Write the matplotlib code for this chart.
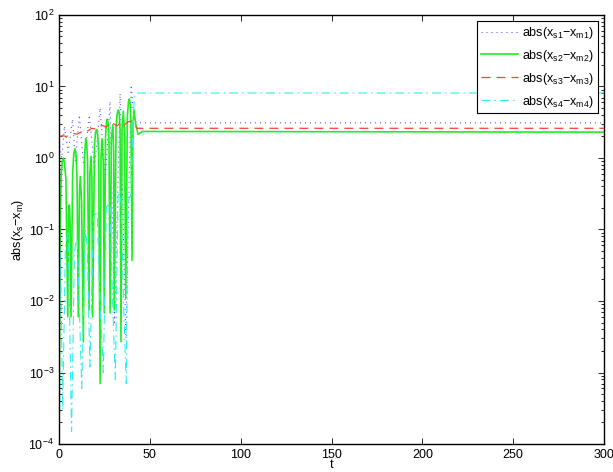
import matplotlib
matplotlib.use("Agg")
import matplotlib.pyplot as plt
import numpy as np

plt.rcParams['font.family'] = ['Liberation Sans', 'DejaVu Sans']
plt.rcParams['mathtext.fontset'] = 'custom'
plt.rcParams['mathtext.rm'] = 'Liberation Sans'
plt.rcParams['mathtext.it'] = 'Liberation Sans:italic'
plt.rcParams['mathtext.default'] = 'regular'
plt.rcParams['font.size'] = 9

# series 1 (blue dotted)
t1 = [0, 1.5, 3, 5, 7.5, 9, 11.2, 13.5, 16.7, 19.5, 22.6, 25.5, 28.1, 30.6, 33.6, 36.8, 39.7, 41, 42.5, 300]
v1 = [1.7, 1.0, 2.8, 1.2, 3.5, 0.9, 4.0, 0.8, 4.0, 0.7, 5.0, 0.5, 6.2, 0.005, 8.0, 0.003, 10.5, 4.0, 3.1, 3.1]

# series 2 (green solid)
t2 = [0, 0.5, 1.2, 1.8, 2.4, 3.0, 3.8, 4.8, 5.2, 5.7, 6.1, 6.6, 7.5, 8.1, 8.8, 9.4, 9.9, 10.6, 11.2, 11.7, 12.4, 13.4, 14.0, 14.7,
      15.3, 15.7, 16.5, 17.0, 17.6, 18.1, 18.5, 19.5, 20.1, 20.7, 21.3, 21.8, 22.6, 23.1, 23.7, 24.4, 24.9, 25.6, 26.1, 26.6,
      27.1, 27.5, 28.1, 28.8, 29.6, 30.1, 30.4, 31.4, 32.1, 32.7, 33.2, 33.6, 34.1, 34.7, 35.4, 36.1, 36.7, 37.6, 38.2, 38.7,
      39.2, 39.6, 40.2, 40.7, 41.3, 42.2, 43.5, 46, 300]
v2 = [1e-4, 0.05, 0.6, 0.9, 1.0, 0.85, 0.5, 0.006, 0.15, 0.22, 0.12, 0.006, 0.6, 1.15, 1.35, 1.1, 0.5, 0.006, 0.3, 0.55, 0.25, 0.0027,
      1.0, 1.86, 1.5, 0.9, 0.0075, 0.6, 1.05, 0.5, 0.006, 1.5, 2.3, 2.5, 2.1, 1.2, 0.0007, 1.0, 1.86, 0.8, 0.0068,
      2.0, 3.1, 3.5, 3.0, 1.8, 0.0068, 1.8, 2.9, 1.2, 0.0075, 2.8, 4.3, 4.7, 4.0, 2.5, 0.0027, 2.5, 4.5, 2.0, 0.011,
      3.8, 6.0, 6.7, 5.5, 3.0, 0.037, 3.0, 4.7, 3.0, 2.15, 2.35, 2.3]

# series 3 (red dashed)
t3 = [0, 2, 4, 6, 8, 10, 12, 14, 16, 18, 20, 22, 24, 26, 28, 30, 32, 34, 36, 38, 40, 41.5, 43, 300]
v3 = [2.0, 2.05, 2.0, 2.1, 2.2, 2.15, 2.3, 2.45, 2.4, 2.6, 2.55, 2.75, 2.85, 2.7, 3.1, 3.0, 2.8,
      3.2, 2.9, 3.2, 3.3, 2.9, 2.6, 2.6]

# series 4 (cyan dash-dot)
t4 = [0, 0.8, 2.0, 3.5, 5.0, 6.9, 8.5, 10.0, 12.5, 14.5, 15.5, 17.0, 19.0, 21.0, 22.5, 24.4, 26.0,
      28.0, 29.5, 31.0, 32.5, 34.0, 35.5, 37.0, 38.0, 39.5, 40.5, 41.5, 42.5, 300]
v4 = [0.002, 0.047, 3e-4, 0.06, 0.09, 1.5e-4, 0.05, 0.08, 6e-4, 0.1, 0.06, 1.2e-3, 0.15, 0.18,
      0.01, 1e-3, 0.2, 0.25, 0.01, 8e-4, 0.3, 0.35, 0.01, 7e-4, 0.25, 0.3, 2.0, 7.5, 8.1, 8.1]

labels = [r'abs(x$_{s1}$$-$x$_{m1}$)', r'abs(x$_{s2}$$-$x$_{m2}$)',
          r'abs(x$_{s3}$$-$x$_{m3}$)', r'abs(x$_{s4}$$-$x$_{m4}$)']
xticks = [0, 50, 100, 150, 200, 250, 300]

fig = plt.figure(figsize=(6.13, 4.72), dpi=100)
ax = fig.add_axes([0.0963, 0.0593, 0.889, 0.909])

ax.semilogy(t1, v1, linestyle=(0, (0.9, 3.6)), color='#5050ff', lw=0.8, label=labels[0])
ax.semilogy(t2, v2, linestyle='-', color='#20ee20', lw=1.2, label=labels[1])
ax.semilogy(t3, v3, linestyle=(0, (7.2, 4.8)), color='#ff4040', lw=0.9, label=labels[2])
ax.semilogy(t4, v4, linestyle=(0, (8, 3.6, 1.4, 3.6)), color='#30eeee', lw=0.8, label=labels[3])

ax.set_xlim(0, 300)
ax.set_ylim(1e-4, 1e2)
ax.set_xticks(xticks)
ax.tick_params(which='both', direction='in', top=True, right=True, width=0.6)
ax.tick_params(which='major', length=4)
ax.tick_params(which='minor', length=2)
for s in ax.spines.values():
    s.set_linewidth(1.0)
ax.set_xlabel('t', labelpad=-1)
ax.set_ylabel(r'abs(x$_{s}$$-$x$_{m}$)', labelpad=2)

leg = ax.legend(loc='upper right', fancybox=False, edgecolor='black', framealpha=1,
                handlelength=3.0, borderaxespad=0.5, labelspacing=0.55, handletextpad=0.3,
                borderpad=0.3)
leg.get_frame().set_linewidth(0.8)

fig.savefig('out.png', dpi=100)
